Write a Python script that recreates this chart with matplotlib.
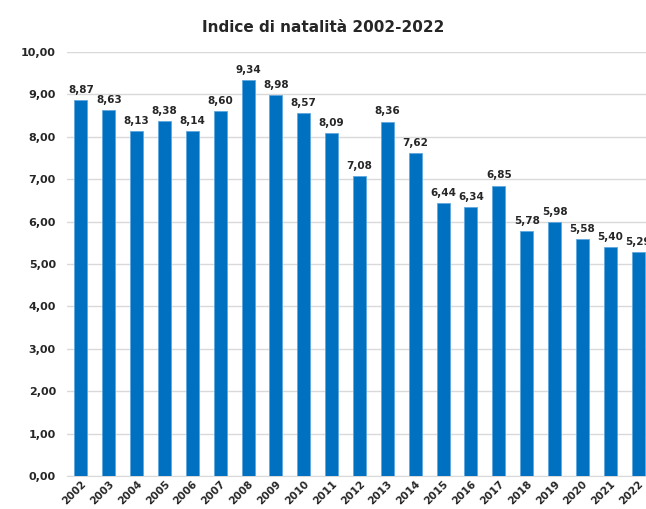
import matplotlib
matplotlib.use('Agg')
import matplotlib.pyplot as plt

# birth rate per 1000 inhabitants
anni = [str(a) for a in range(2002, 2023)]
natalita = [8.87, 8.63, 8.13, 8.38, 8.14, 8.60, 9.34, 8.98, 8.57, 8.09,
            7.08, 8.36, 7.62, 6.44, 6.34, 6.85, 5.78, 5.98, 5.58, 5.40, 5.29]

def fmt(v):
    return f"{v:.2f}".replace('.', ',')

fig = plt.figure(figsize=(6.46, 5.09), dpi=100)
ax = fig.add_axes([0.1037, 0.0648, 0.9056, 0.833])

x = range(len(anni))
ax.bar(x, natalita, width=0.47, color='#0070C0', edgecolor='#5fa8e0', linewidth=0.6, zorder=3)

for i, v in enumerate(natalita):
    ax.text(i, v + 0.12, fmt(v), ha='center', va='bottom', fontsize=7.5,
            fontweight='bold', color='#262626')

ax.set_xlim(-0.5, len(anni) - 0.5)
ax.set_ylim(0, 10)
ax.set_yticks([i for i in range(11)])
ax.set_yticklabels([fmt(float(i)) for i in range(11)], fontsize=8, fontweight='bold', color='#262626')
ax.tick_params(axis='y', length=0, pad=8)
ax.set_xticks(list(x))
ax.set_xticklabels(anni, rotation=45, ha='right', rotation_mode='anchor', fontsize=7.5,
                   fontweight='bold', color='#262626')
ax.tick_params(axis='x', length=0, pad=2)

ax.grid(axis='y', color='#d9d9d9', linewidth=1, zorder=0)
for s in ['top', 'right', 'left']:
    ax.spines[s].set_visible(False)
ax.spines['bottom'].set_color('#d9d9d9')

fig.text(0.5, 0.945, 'Indice di natalità 2002-2022', ha='center', va='center',
         fontsize=11, fontweight='bold', color='#262626')

plt.savefig('out.png', dpi=100)
